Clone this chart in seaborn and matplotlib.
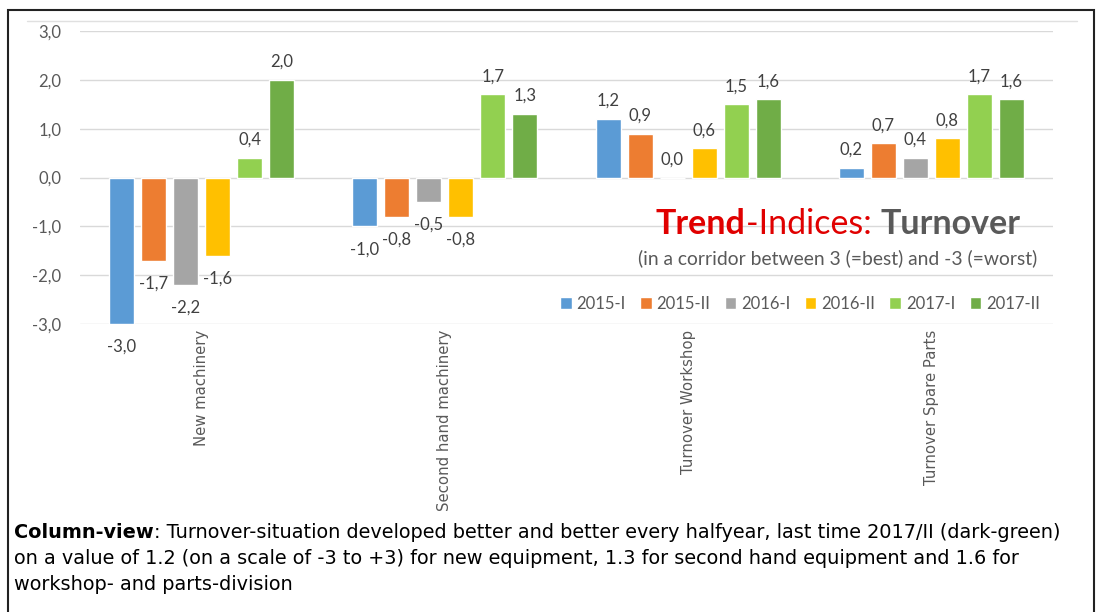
import numpy as np
import pandas as pd
import matplotlib
matplotlib.use("Agg")
import matplotlib.pyplot as plt
from matplotlib.patches import Rectangle
from matplotlib.lines import Line2D
import seaborn as sns

categories = ["New machinery", "Second hand machinery", "Turnover Workshop", "Turnover Spare Parts"]
periods = ["2015-I", "2015-II", "2016-I", "2016-II", "2017-I", "2017-II"]
v_2015_1 = [-3.0, -1.0, 1.2, 0.2]
v_2015_2 = [-1.7, -0.8, 0.9, 0.7]
v_2016_1 = [-2.2, -0.5, 0.0, 0.4]
v_2016_2 = [-1.6, -0.8, 0.6, 0.8]
v_2017_1 = [0.4, 1.7, 1.5, 1.7]
v_2017_2 = [2.0, 1.3, 1.6, 1.6]
yticks = [-3, -2, -1, 0, 1, 2, 3]
colors = ["#5B9BD5", "#ED7D31", "#A5A5A5", "#FFC000", "#92D050", "#70AD47"]

series = [v_2015_1, v_2015_2, v_2016_1, v_2016_2, v_2017_1, v_2017_2]
rows = []
for p, vals in zip(periods, series):
    for c, v in zip(categories, vals):
        rows.append({"category": c, "period": p, "value": v})
df = pd.DataFrame(rows)

sns.set_style("white")
plt.rcParams["font.family"] = ["Lato", "DejaVu Sans"]

W, H = 1099, 612
fig = plt.figure(figsize=(W / 100, H / 100), dpi=100)
ax = fig.add_axes([80 / W, 1 - 324 / H, 973 / W, 293 / H])

sns.barplot(data=df, x="category", y="value", hue="period", order=categories,
            hue_order=periods, palette=colors, width=0.79, gap=0.22,
            saturation=1, ax=ax, legend=True)

ax.set_ylim(-3, 3)
ax.set_xlim(-0.5, 3.5)
ax.set_yticks(yticks)
ax.set_yticklabels([f"{t:.1f}".replace(".", ",") for t in yticks])
ax.set_xticks(range(len(categories)))
ax.set_xticklabels(categories, rotation=90, va="top", ha="center",
                   fontfamily="DejaVu Sans", fontsize=10.7, color="#595959")
ax.tick_params(axis="y", length=0, pad=13.5, labelsize=12, labelcolor="#595959")
ax.tick_params(axis="x", length=0, pad=4)
ax.set_xlabel("")
ax.set_ylabel("")
for s in ax.spines.values():
    s.set_visible(False)
ax.grid(axis="y", color="#D9D9D9", lw=1)
ax.set_axisbelow(True)

# value labels
for cont in ax.containers:
    for bar in cont:
        v = bar.get_height()
        xc = bar.get_x() + bar.get_width() / 2
        off = 13 if v >= 0 else -16.5
        ax.annotate(f"{v:.1f}".replace(".", ",").replace("-0,0", "0,0"),
                    xy=(xc, v), xytext=(0, off), textcoords="offset points",
                    ha="center", va="center", fontsize=12, color="#404040",
                    annotation_clip=False)

# legend
handles, labels = ax.get_legend_handles_labels()
ax.legend(handles, labels, loc="center", bbox_to_anchor=(800 / W, 1 - 304 / H),
          bbox_transform=fig.transFigure, ncol=6, frameon=False, fontsize=12,
          handlelength=0.7, handleheight=0.7, handletextpad=0.3,
          columnspacing=0.85, labelcolor="#595959")

# title inside chart
t1 = fig.text(656 / W, 1 - 224 / H, "Trend", color="#E00000", fontsize=24.5,
              fontweight="bold", va="center", ha="left")
t2 = ax.annotate("-Indices: ", xy=(1, 0), xycoords=t1, va="bottom", ha="left",
                 color="#E00000", fontsize=24.5)
t3 = ax.annotate("Turnover", xy=(1, 0), xycoords=t2, va="bottom", ha="left",
                 color="#595959", fontsize=24.5, fontweight="bold")
fig.text(1037 / W, 1 - 258 / H, "(in a corridor between 3 (=best) and -3 (=worst)",
         color="#595959", fontsize=13.9, ha="right", va="center")

# caption
cap_font = "DejaVu Sans"
b1 = fig.text(14 / W, 1 - 533 / H, "Column-view", fontweight="bold", fontsize=13.9,
              family=cap_font, va="center", ha="left", color="black")
ax.annotate(": Turnover-situation developed better and better every halfyear, last time 2017/II (dark-green)",
            xy=(1, 0), xycoords=b1, va="bottom", ha="left", fontsize=13.9,
            family=cap_font, color="black", annotation_clip=False)
fig.text(14 / W, 1 - 559 / H,
         "on a value of 1.2 (on a scale of -3 to +3) for new equipment, 1.3 for second hand equipment and 1.6 for",
         fontsize=13.9, family=cap_font, va="center", ha="left", color="black")
fig.text(14 / W, 1 - 585 / H, "workshop- and parts-division",
         fontsize=13.9, family=cap_font, va="center", ha="left", color="black")

# frames
fig.add_artist(Line2D([27 / W, 1077 / W], [1 - 21 / H, 1 - 21 / H],
                      transform=fig.transFigure, color="#E0E0E0", lw=1))
fig.add_artist(Rectangle((8 / W, -0.01), 1086 / W, 1.01 - 10 / H,
                         transform=fig.transFigure, fill=False,
                         edgecolor="#222222", lw=1.5))

fig.savefig("out.png", dpi=100)
